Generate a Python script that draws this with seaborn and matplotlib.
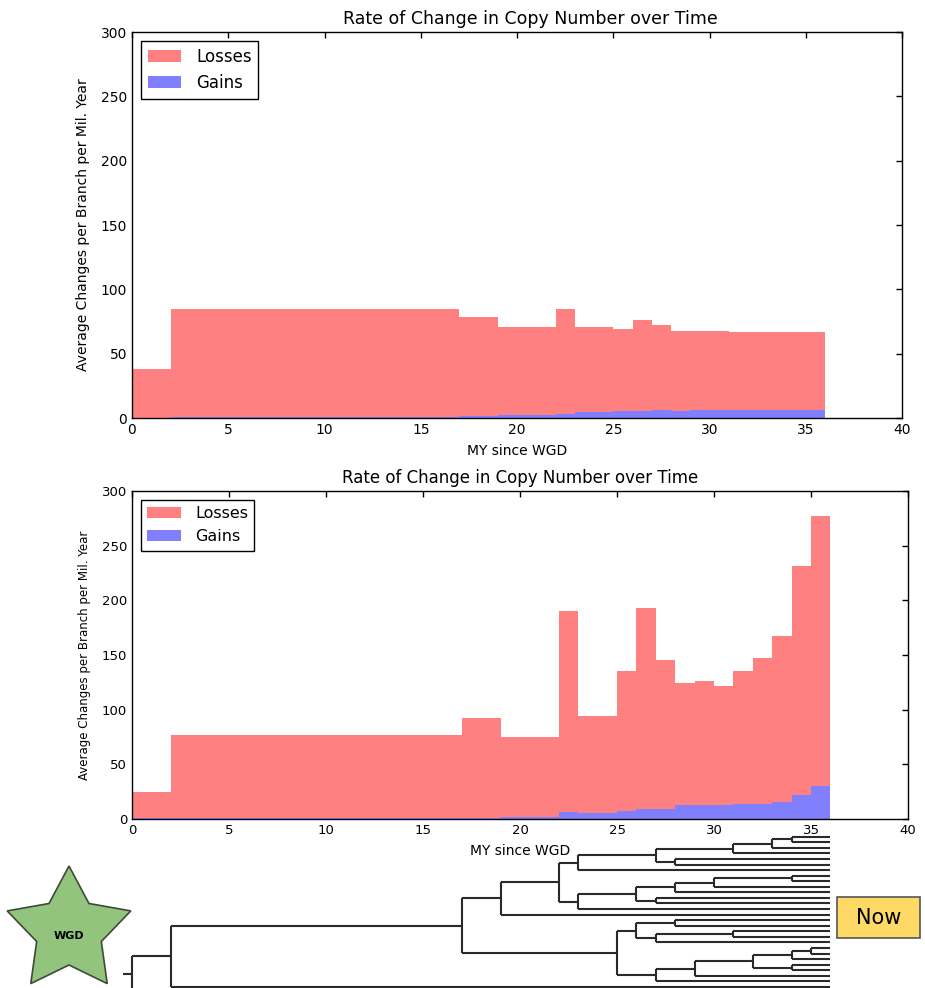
import numpy as np
import matplotlib
matplotlib.use("Agg")
import matplotlib.pyplot as plt
from matplotlib.patches import Polygon, Rectangle
import seaborn as sns

# ---------------- data ----------------
bin_edges = [0, 2, 17, 19, 22, 23, 25, 26, 27, 28, 29, 30, 31, 32, 33, 34, 35, 36]

top_losses = [38, 85, 78.5, 71, 85, 71, 69.5, 76.5, 72, 68, 68, 68, 67, 66.5, 66.5, 66.5, 66.5]
top_gains = [0.3, 0.4, 1.2, 2.0, 3.2, 4.4, 5.2, 5.2, 6.2, 5.4, 6.2, 6.2, 6.2, 6.2, 6.2, 6.2, 6.2]

bot_losses = [25, 77, 92, 75, 190, 94, 135, 193, 145, 124, 126, 122, 135, 147, 167, 231, 277]
bot_gains = [1.0, 1.0, 0.5, 2.1, 6.7, 5.8, 7.6, 9.1, 9.1, 12.5, 12.5, 12.5, 13.7, 13.7, 15.2, 22.2, 30.2]

title_text = "Rate of Change in Copy Number over Time"
xlabel_text = "MY since WGD"
ylabel_text = "Average Changes per Branch per Mil. Year"
xticks = [0, 5, 10, 15, 20, 25, 30, 35, 40]
yticks = [0, 50, 100, 150, 200, 250, 300]

TIP_AGE = 36
# tree: (node age in MY since WGD, [children]); "t" = extant tip
tree = (0, [
    (2, [
        (17, [
            (19, [
                (22, [
                    (23, [
                        (27, [
                            (31, [(33, [(34, ["t", "t"]), "t"]), "t"]),
                            (28, ["t", "t"]),
                        ]),
                        "t",
                    ]),
                    (23, [
                        (26, [
                            (28, [(30, [(34, ["t", "t"]), "t"]), "t"]),
                            (27, ["t", "t"]),
                        ]),
                        "t",
                    ]),
                ]),
                "t",
            ]),
            (25, [
                (26, [
                    (28, ["t", "t"]),
                    (27, [(31, ["t", "t"]), "t"]),
                ]),
                (27, [
                    (29, [
                        (32, [(34, [(35, ["t", "t"]), "t"]), (34, ["t", "t"])]),
                        "t",
                    ]),
                    "t",
                ]),
            ]),
        ]),
        "t",
    ]),
    "t",
])

# ---------------- style ----------------
sns.set_style("white")
plt.rcParams["font.family"] = ["DejaVu Sans"]
plt.rcParams.update({
    "xtick.direction": "in", "ytick.direction": "in",
    "xtick.top": True, "ytick.right": True,
    "xtick.major.size": 4, "ytick.major.size": 4,
    "axes.edgecolor": "black", "axes.linewidth": 1.0,
    "xtick.color": "black", "ytick.color": "black",
    "text.color": "black", "axes.labelcolor": "black",
    "axes.titlecolor": "black",
})

LOSS_C = "#ff8080"
GAIN_C = "#8080ff"

fig = plt.figure(figsize=(9.25, 9.88), dpi=100)

centers = [(a + b) / 2 for a, b in zip(bin_edges[:-1], bin_edges[1:])]


def draw_panel(ax, losses, gains, fs_title, title_x, fs_tick, fs_xlabel, fs_ylabel, fs_leg, hl):
    sns.histplot(x=centers, weights=losses, bins=list(bin_edges), element="step", fill=True,
                 color=LOSS_C, alpha=1, linewidth=0, ax=ax, label="Losses")
    sns.histplot(x=centers, weights=gains, bins=list(bin_edges), element="step", fill=True,
                 color=GAIN_C, alpha=1, linewidth=0, ax=ax, label="Gains")
    ax.set_xlim(0, 40)
    ax.set_ylim(0, 300)
    ax.set_xticks(xticks)
    ax.set_yticks(yticks)
    ax.tick_params(labelsize=fs_tick, direction="in", top=True, right=True,
                   length=4, width=1, colors="black")
    for s in ax.spines.values():
        s.set_visible(True)
        s.set_color("black")
        s.set_linewidth(1.0)
    ax.set_title(title_text, fontsize=fs_title, pad=6, x=title_x, color="black")
    ax.set_xlabel(xlabel_text, fontsize=fs_xlabel, labelpad=5, color="black")
    ax.set_ylabel(ylabel_text, fontsize=fs_ylabel, labelpad=8, color="black")
    leg = ax.legend(loc="upper left", fontsize=fs_leg, fancybox=False, framealpha=1,
                    edgecolor="black", handlelength=hl, handleheight=0.75,
                    borderaxespad=0.55, labelspacing=0.5, handletextpad=0.9)
    leg.get_frame().set_linewidth(1.0)


ax1 = fig.add_axes([132 / 925, 1 - 418 / 988, (902 - 132) / 925, (418 - 32) / 988])
draw_panel(ax1, top_losses, top_gains, 12.5, 0.518, 10, 10, 10, 12, 2.0)

ax2 = fig.add_axes([132 / 925, 1 - 819 / 988, (908 - 132) / 925, (819 - 491) / 988])
draw_panel(ax2, bot_losses, bot_gains, 12, 0.5, 9.5, 10, 8.5, 11.5, 2.1)

# ---------------- tree ----------------
axt = fig.add_axes([132 / 925, 0, (908 - 132) / 925, (988 - 830) / 988])
axt.set_xlim(0, 40)
axt.axis("off")

segments = []
counter = [0]


def layout(node, parent_age=None):
    if node == "t":
        y = counter[0]
        counter[0] += 1
        if parent_age is not None:
            segments.append(((parent_age, TIP_AGE), (y, y)))
        return y
    age, children = node
    ys = [layout(c, age) for c in children]
    y = (ys[0] + ys[-1]) / 2
    segments.append(((age, age), (ys[0], ys[-1])))
    if parent_age is not None:
        segments.append(((parent_age, age), (y, y)))
    else:
        segments.append(((-0.45, age), (y, y)))
    return y


layout(tree)
for xs, ys in segments:
    axt.plot(xs, ys, color="#2a2a2a", lw=1.5, solid_capstyle="butt", clip_on=False)
axt.set_ylim(27.18, -1.2)

# ---------------- overlay: star + Now box ----------------
axo = fig.add_axes([0, 0, 1, 1], zorder=5)
axo.set_xlim(0, 925)
axo.set_ylim(988, 0)
axo.axis("off")
axo.patch.set_alpha(0)

cx, cy, R, r = 69, 931, 65, 34
pts = []
for k in range(10):
    ang = np.pi / 2 + k * np.pi / 5
    rad = R if k % 2 == 0 else r
    pts.append((cx + rad * np.cos(ang), cy - rad * np.sin(ang)))
axo.add_patch(Polygon(pts, closed=True, facecolor="#93c47d", edgecolor="#3d4a38", lw=1.2))
axo.text(cx, cy + 5, "WGD", ha="center", va="center", fontsize=8, fontweight="bold")

axo.add_patch(Rectangle((837, 897), 83, 41, facecolor="#ffd966", edgecolor="#555555", lw=1.2))
axo.text(878.5, 918, "Now", ha="center", va="center", fontsize=15)

fig.savefig("out.png", dpi=100)
